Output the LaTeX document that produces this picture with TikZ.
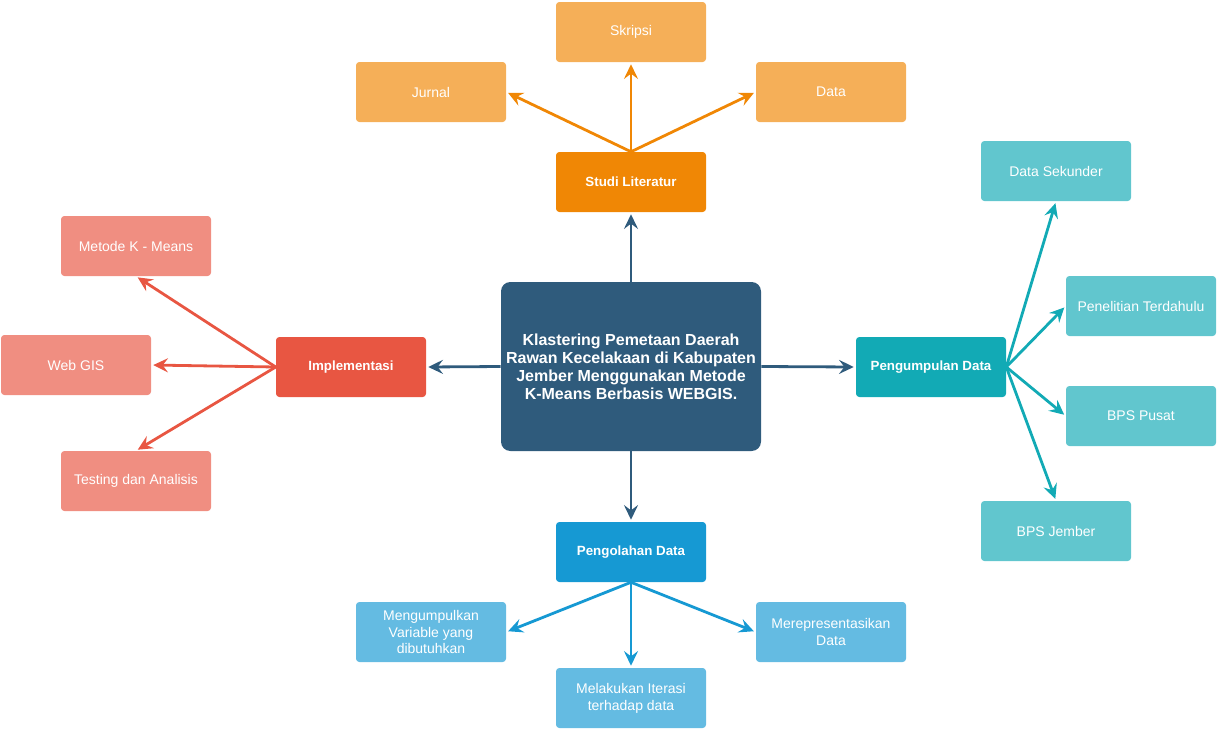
\documentclass[tikz,border=0pt]{standalone}
\usepackage{fontspec}
\setmainfont{Liberation Sans}
\usetikzlibrary{arrows.meta}
\definecolor{orD}{HTML}{F08705}
\definecolor{orL}{HTML}{F5AF58}
\definecolor{reD}{HTML}{E85642}
\definecolor{reL}{HTML}{F08E81}
\definecolor{teD}{HTML}{12AAB5}
\definecolor{teL}{HTML}{61C6CE}
\definecolor{blD}{HTML}{1699D3}
\definecolor{blL}{HTML}{64BBE2}
\definecolor{cen}{HTML}{2F5B7C}
\tikzset{
  box/.style={rectangle, rounded corners=2.5pt, minimum width=112.5pt, minimum height=45pt,
    text=white, align=center, inner sep=2pt, font=\fontsize{10.5}{12.6}\selectfont},
  parentbox/.style={box, font=\fontsize{10}{12}\selectfont\bfseries},
  centerbox/.style={rectangle, rounded corners=7pt, minimum width=195pt, minimum height=126.75pt,
    text=white, align=center, fill=cen, font=\fontsize{12}{13.5}\selectfont\bfseries},
  conn/.style={line width=2.1pt, shorten >=1.5pt,
    -{Stealth[length=11pt, width=10.5pt, inset=4pt]}},
}
\begin{document}
\begin{tikzpicture}[x=0.75pt, y=-0.75pt]
\useasboundingbox (0,0) rectangle (1218,729);

% central
\node[centerbox] (c) at (631,366.5) {Klastering Pemetaan Daerah\\Rawan Kecelakaan di Kabupaten\\Jember Menggunakan Metode\\K-Means Berbasis WEBGIS.};

% parents
\node[parentbox, fill=orD] (sl) at (631,182) {Studi Literatur};
\node[parentbox, fill=reD] (imp) at (351,367) {Implementasi};
\node[parentbox, fill=teD] (pd) at (931,367) {Pengumpulan Data};
\node[parentbox, fill=blD] (po) at (631,552) {Pengolahan Data};

% orange children
\node[box, fill=orL] (skr) at (631,32) {Skripsi};
\node[box, fill=orL] (jur) at (431,92) {Jurnal};
\node[box, fill=orL] (dat) at (831,92) {Data};

% red children
\node[box, fill=reL] (km) at (136,246) {Metode K - Means};
\node[box, fill=reL] (wg) at (76,365) {Web GIS};
\node[box, fill=reL] (ta) at (136,481) {Testing dan Analisis};

% teal children
\node[box, fill=teL] (ds) at (1056,171) {Data Sekunder};
\node[box, fill=teL] (pt) at (1141,306) {Penelitian Terdahulu};
\node[box, fill=teL] (bp) at (1141,416) {BPS Pusat};
\node[box, fill=teL] (bj) at (1056,531) {BPS Jember};

% blue children
\node[box, fill=blL] (mv) at (431,632) {Mengumpulkan\\Variable yang\\dibutuhkan};
\node[box, fill=blL] (mi) at (631,698) {Melakukan Iterasi\\terhadap data};
\node[box, fill=blL] (mr) at (831,632) {Merepresentasikan\\Data};

% central connectors
\draw[conn, cen] (c.north) -- (sl.south);
\draw[conn, cen] (c.west) -- (imp.east);
\draw[conn, cen] (c.east) -- (pd.west);
\draw[conn, cen] (c.south) -- (po.north);

% orange connectors
\draw[conn, orD] (sl.north) -- (jur.east);
\draw[conn, orD] (sl.north) -- (skr.south);
\draw[conn, orD] (sl.north) -- (dat.west);

% red connectors
\draw[conn, reD] (imp.west) -- (km.south);
\draw[conn, reD] (imp.west) -- (wg.east);
\draw[conn, reD] (imp.west) -- (ta.north);

% teal connectors
\draw[conn, teD] (pd.east) -- (ds.south);
\draw[conn, teD] (pd.east) -- (pt.west);
\draw[conn, teD] (pd.east) -- (bp.west);
\draw[conn, teD] (pd.east) -- (bj.north);

% blue connectors
\draw[conn, blD] (po.south) -- (mv.east);
\draw[conn, blD] (po.south) -- (mi.north);
\draw[conn, blD] (po.south) -- (mr.west);
\end{tikzpicture}
\end{document}
